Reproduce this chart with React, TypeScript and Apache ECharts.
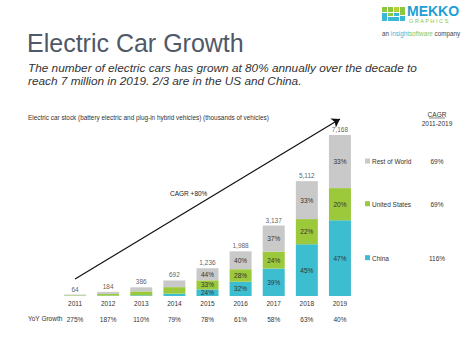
import React, { useEffect, useRef } from "react";
import * as echarts from "echarts";

const years = ["2011", "2012", "2013", "2014", "2015", "2016", "2017", "2018", "2019"];
const totals = [64, 184, 386, 692, 1236, 1988, 3137, 5112, 7168];
const chinaShare = [15, 9, 8, 15, 24, 32, 39, 45, 47];
const usShare = [34, 41, 45, 42, 33, 28, 24, 22, 20];
const rowShare = [51, 50, 47, 43, 44, 40, 37, 33, 33];
const yoyGrowth = ["275%", "187%", "110%", "79%", "78%", "61%", "58%", "63%", "40%"];
const seriesNames = ["China", "United States", "Rest of World"];
const cagrValues = ["116%", "69%", "69%"];
const overallCagr = "CAGR +80%";

const COLORS = ["#3DBDD0", "#9CC83B", "#C9C9C9"];
const FONT = "Liberation Sans, Arial, sans-serif";
const FS = 6.5;

export default function App() {
  const ref = useRef<HTMLDivElement>(null);
  useEffect(() => {
    if (!ref.current) return;
    const chart = echarts.init(ref.current, null, { renderer: "svg" });
    const shares = [chinaShare, usShare, rowShare];
    const segs = shares.map((s) =>
      totals.map((t, i) => {
        const sum = chinaShare[i] + usShare[i] + rowShare[i];
        return (t * s[i]) / sum;
      })
    );
    const barSeries = segs.map((d, k) => ({
      name: seriesNames[k],
      type: "bar",
      stack: "total",
      barWidth: 22,
      data: d,
      itemStyle: { color: COLORS[k] },
      label: {
        show: true,
        position: "inside",
        fontSize: FS,
        color: "#333",
        fontFamily: FONT,
        formatter: (p: any) => (p.dataIndex >= 4 ? shares[k][p.dataIndex] + "%" : ""),
      },
    }));
    const option: any = {
      animation: false,
      textStyle: { fontFamily: FONT },
      grid: { left: 58.5, right: 117.5, top: 116.3, bottom: 59 },
      xAxis: [
        {
          type: "category",
          data: years,
          axisLine: { show: false },
          axisTick: { show: false },
          axisLabel: { fontSize: FS, color: "#333", margin: 4, fontFamily: FONT },
        },
        {
          type: "category",
          data: years,
          position: "bottom",
          offset: 15.5,
          axisLine: { show: false },
          axisTick: { show: false },
          axisLabel: {
            fontSize: FS,
            color: "#333",
            margin: 4,
            fontFamily: FONT,
            formatter: (_v: string, i: number) => yoyGrowth[i],
          },
        },
      ],
      yAxis: { type: "value", min: 0, max: 8000, show: false, splitLine: { show: false } },
      series: [
        ...barSeries,
        {
          type: "scatter",
          data: totals,
          symbolSize: 0,
          silent: true,
          label: {
            show: true,
            position: "top",
            distance: 2,
            fontSize: FS,
            color: "#333",
            fontFamily: FONT,
            formatter: (p: any) => p.value.toLocaleString("en-US"),
          },
          markLine: {
            silent: true,
            symbol: ["none", "arrow"],
            symbolSize: 8,
            label: { show: false },
            lineStyle: { color: "#111", width: 1.2, type: "solid" },
            data: [[{ coord: [0, 760] }, { coord: [8, 7880] }]],
          },
        },
      ],
    };
    chart.setOption(option);

    const px = (cat: number, v: number) =>
      chart.convertToPixel({ xAxisIndex: 0, yAxisIndex: 0 }, [cat, v]) as number[];
    const last = years.length - 1;
    let base = 0;
    const legendEls: any[] = [];
    segs.forEach((d, k) => {
      const mid = base + d[last] / 2;
      base += d[last];
      const y = px(last, mid)[1];
      legendEls.push(
        { type: "rect", shape: { x: 365, y: y - 3, width: 5, height: 5 }, style: { fill: COLORS[k] } },
        {
          type: "text",
          x: 372,
          y,
          style: { text: seriesNames[k], fill: "#333", verticalAlign: "middle", font: `${FS}px ${FONT}` },
        },
        {
          type: "text",
          x: 437,
          y,
          style: { text: cagrValues[k], fill: "#333", align: "center", verticalAlign: "middle", font: `${FS}px ${FONT}` },
        }
      );
    });

    const logo: any[] = [
      { type: "rect", shape: { x: 382, y: 7, width: 5, height: 5 }, style: { fill: "#8DC63F" } },
      { type: "rect", shape: { x: 388, y: 7, width: 5, height: 5 }, style: { fill: "#8DC63F" } },
      { type: "rect", shape: { x: 394, y: 7, width: 5, height: 5 }, style: { fill: "#B5D334" } },
      { type: "rect", shape: { x: 400, y: 7, width: 5, height: 8 }, style: { fill: "#8DC63F" } },
      { type: "rect", shape: { x: 382, y: 13, width: 5, height: 8 }, style: { fill: "#3BB8D6" } },
      { type: "rect", shape: { x: 388, y: 13, width: 5, height: 3 }, style: { fill: "#8DC63F" } },
      { type: "rect", shape: { x: 394, y: 13, width: 5, height: 3 }, style: { fill: "#3BB8D6" } },
      { type: "rect", shape: { x: 388, y: 17, width: 11, height: 4 }, style: { fill: "#3BB8D6" } },
      { type: "rect", shape: { x: 400, y: 16, width: 5, height: 5 }, style: { fill: "#3BB8D6" } },
      {
        type: "text",
        x: 407,
        y: 10.8,
        style: {
          text: "MEKKO",
          fill: "#1E9FD6",
          verticalAlign: "middle",
          fontSize: 14,
          fontWeight: "bold",
          fontFamily: FONT,
        },
      },
      {
        type: "text",
        x: 409,
        y: 21.3,
        style: {
          text: "G R A P H I C S",
          fill: "#8DC63F",
          verticalAlign: "middle",
          fontSize: 5.6,
          fontFamily: FONT,
        },
      },
      {
        type: "text",
        x: 382,
        y: 33.3,
        style: {
          text: "{a|an }{b|insight}{c|software}{a| company}",
          verticalAlign: "middle",
          font: `6.3px ${FONT}`,
          rich: {
            a: { fill: "#444", fontSize: 6.3, fontFamily: FONT },
            b: { fill: "#3BB8D6", fontSize: 6.3, fontFamily: FONT },
            c: { fill: "#8DC63F", fontSize: 6.3, fontFamily: FONT },
          },
        },
      },
    ];

    const texts: any[] = [
      {
        type: "text",
        x: 27,
        y: 43,
        style: { text: "Electric Car Growth", fill: "#4F5866", verticalAlign: "middle", font: `25px ${FONT}` },
      },
      {
        type: "text",
        x: 28,
        y: 67.5,
        style: {
          text: "The number of electric cars has grown at 80% annually over the decade to",
          fill: "#333",
          verticalAlign: "middle",
          font: `italic 11.8px ${FONT}`,
        },
      },
      {
        type: "text",
        x: 28,
        y: 81,
        style: {
          text: "reach 7 million in 2019. 2/3 are in the US and China.",
          fill: "#333",
          verticalAlign: "middle",
          font: `italic 11.8px ${FONT}`,
        },
      },
      {
        type: "text",
        x: 28,
        y: 117,
        style: {
          text: "Electric car stock (battery electric and plug-in hybrid vehicles) (thousands of vehicles)",
          fill: "#333",
          verticalAlign: "middle",
          font: `6.4px ${FONT}`,
        },
      },
      {
        type: "text",
        x: 437,
        y: 114,
        style: { text: "CAGR", fill: "#333", align: "center", verticalAlign: "middle", font: `${FS}px ${FONT}` },
      },
      { type: "line", shape: { x1: 429, y1: 118, x2: 445, y2: 118 }, style: { stroke: "#333", lineWidth: 0.6 } },
      {
        type: "text",
        x: 437,
        y: 123,
        style: { text: "2011-2019", fill: "#333", align: "center", verticalAlign: "middle", font: `${FS}px ${FONT}` },
      },
      {
        type: "text",
        x: 28,
        y: 318,
        style: { text: "YoY Growth", fill: "#333", verticalAlign: "middle", font: `${FS}px ${FONT}` },
      },
      {
        type: "text",
        x: 170,
        y: 193,
        style: { text: overallCagr, fill: "#222", verticalAlign: "middle", font: `${FS}px ${FONT}` },
      },
    ];

    chart.setOption({ graphic: [...texts, ...logo, ...legendEls] });
    return () => chart.dispose();
  }, []);
  return (
    <div
      ref={ref}
      style={{ position: "fixed", left: 0, top: 0, width: 474, height: 355, background: "#fff" }}
    />
  );
}
